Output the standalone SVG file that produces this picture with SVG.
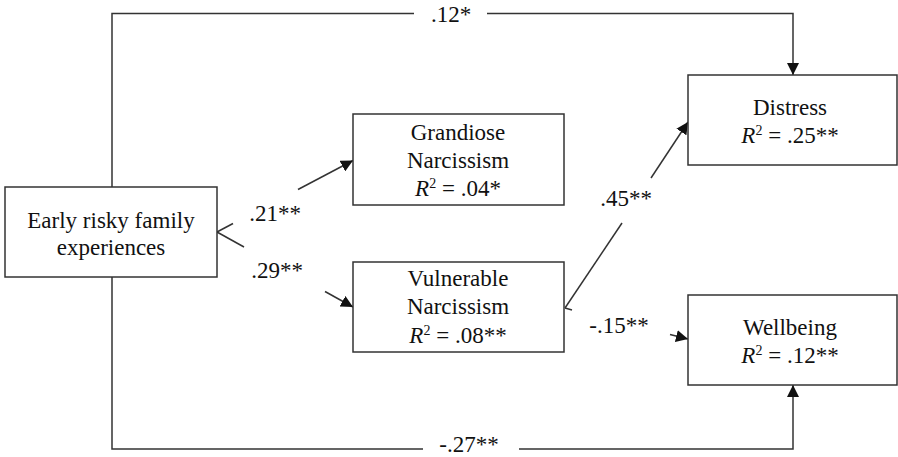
<svg xmlns="http://www.w3.org/2000/svg" width="898" height="457" viewBox="0 0 898 457">
<style>
.box{fill:#fff;stroke:#333;stroke-width:1.5}
.ln{fill:none;stroke:#333;stroke-width:1.5}
</style>
<defs>
<marker id="ah" viewBox="0 0 12 12" refX="12" refY="6" markerWidth="12" markerHeight="12" markerUnits="userSpaceOnUse" orient="auto">
<path d="M0,0 L12,6 L0,12 Z" fill="#111"/>
</marker>
</defs>
<rect width="898" height="457" fill="#fff"/>
<g id="connectors">
<polyline class="ln" points="112,187 112,13.5 414,13.5"/>
<polyline class="ln" points="487,13.5 793,13.5 793,75" marker-end="url(#ah)"/>
<polyline class="ln" points="112,277 112,449 423,449"/>
<polyline class="ln" points="519,449 793,449 793,385" marker-end="url(#ah)"/>
<line class="ln" x1="217" y1="232" x2="233" y2="223.5"/>
<line class="ln" x1="298" y1="189.5" x2="353" y2="160.5" marker-end="url(#ah)"/>
<line class="ln" x1="217" y1="232" x2="244" y2="247"/>
<line class="ln" x1="325" y1="291.5" x2="353" y2="307" marker-end="url(#ah)"/>
<line class="ln" x1="565" y1="308" x2="622" y2="223"/>
<line class="ln" x1="651" y1="178" x2="688" y2="122" marker-end="url(#ah)"/>
<line class="ln" x1="565" y1="308" x2="572" y2="310"/>
<line class="ln" x1="670" y1="334.5" x2="688" y2="339" marker-end="url(#ah)"/>
<text font-family="Liberation Serif" font-size="23" fill="#111" text-anchor="middle" x="451" y="22">.12*</text>
<text font-family="Liberation Serif" font-size="23" fill="#111" text-anchor="middle" x="469" y="452">-.27**</text>
<text font-family="Liberation Serif" font-size="23" fill="#111" text-anchor="middle" x="275" y="221">.21**</text>
<text font-family="Liberation Serif" font-size="23" fill="#111" text-anchor="middle" x="277" y="278">.29**</text>
<text font-family="Liberation Serif" font-size="23" fill="#111" text-anchor="middle" x="626" y="206">.45**</text>
<text font-family="Liberation Serif" font-size="23" fill="#111" text-anchor="middle" x="619" y="333">-.15**</text>
</g>
<g id="early">
<rect class="box" x="5" y="187" width="212" height="90"/>
<text font-family="Liberation Serif" font-size="23" fill="#111" text-anchor="middle" x="111" y="228">Early risky family</text>
<text font-family="Liberation Serif" font-size="23" fill="#111" text-anchor="middle" x="111" y="255">experiences</text>
</g>
<g id="grandiose">
<rect class="box" x="353" y="114" width="211" height="91"/>
<text font-family="Liberation Serif" font-size="23" fill="#111" text-anchor="middle" x="458" y="140">Grandiose</text>
<text font-family="Liberation Serif" font-size="23" fill="#111" text-anchor="middle" x="458" y="168">Narcissism</text>
<text font-family="Liberation Serif" font-size="23" fill="#111" text-anchor="middle" x="458" y="196"><tspan font-style="italic">R</tspan><tspan font-size="14" dy="-8">2</tspan><tspan dy="8"> = .04*</tspan></text>
</g>
<g id="vulnerable">
<rect class="box" x="353" y="262" width="211" height="90"/>
<text font-family="Liberation Serif" font-size="23" fill="#111" text-anchor="middle" x="458" y="286">Vulnerable</text>
<text font-family="Liberation Serif" font-size="23" fill="#111" text-anchor="middle" x="458" y="314">Narcissism</text>
<text font-family="Liberation Serif" font-size="23" fill="#111" text-anchor="middle" x="458" y="343"><tspan font-style="italic">R</tspan><tspan font-size="14" dy="-8">2</tspan><tspan dy="8"> = .08**</tspan></text>
</g>
<g id="distress">
<rect class="box" x="688" y="75" width="209" height="90"/>
<text font-family="Liberation Serif" font-size="23" fill="#111" text-anchor="middle" x="790" y="115">Distress</text>
<text font-family="Liberation Serif" font-size="23" fill="#111" text-anchor="middle" x="790" y="143"><tspan font-style="italic">R</tspan><tspan font-size="14" dy="-8">2</tspan><tspan dy="8"> = .25**</tspan></text>
</g>
<g id="wellbeing">
<rect class="box" x="688" y="295" width="209" height="90"/>
<text font-family="Liberation Serif" font-size="23" fill="#111" text-anchor="middle" x="790" y="335">Wellbeing</text>
<text font-family="Liberation Serif" font-size="23" fill="#111" text-anchor="middle" x="790" y="363"><tspan font-style="italic">R</tspan><tspan font-size="14" dy="-8">2</tspan><tspan dy="8"> = .12**</tspan></text>
</g>
</svg>
